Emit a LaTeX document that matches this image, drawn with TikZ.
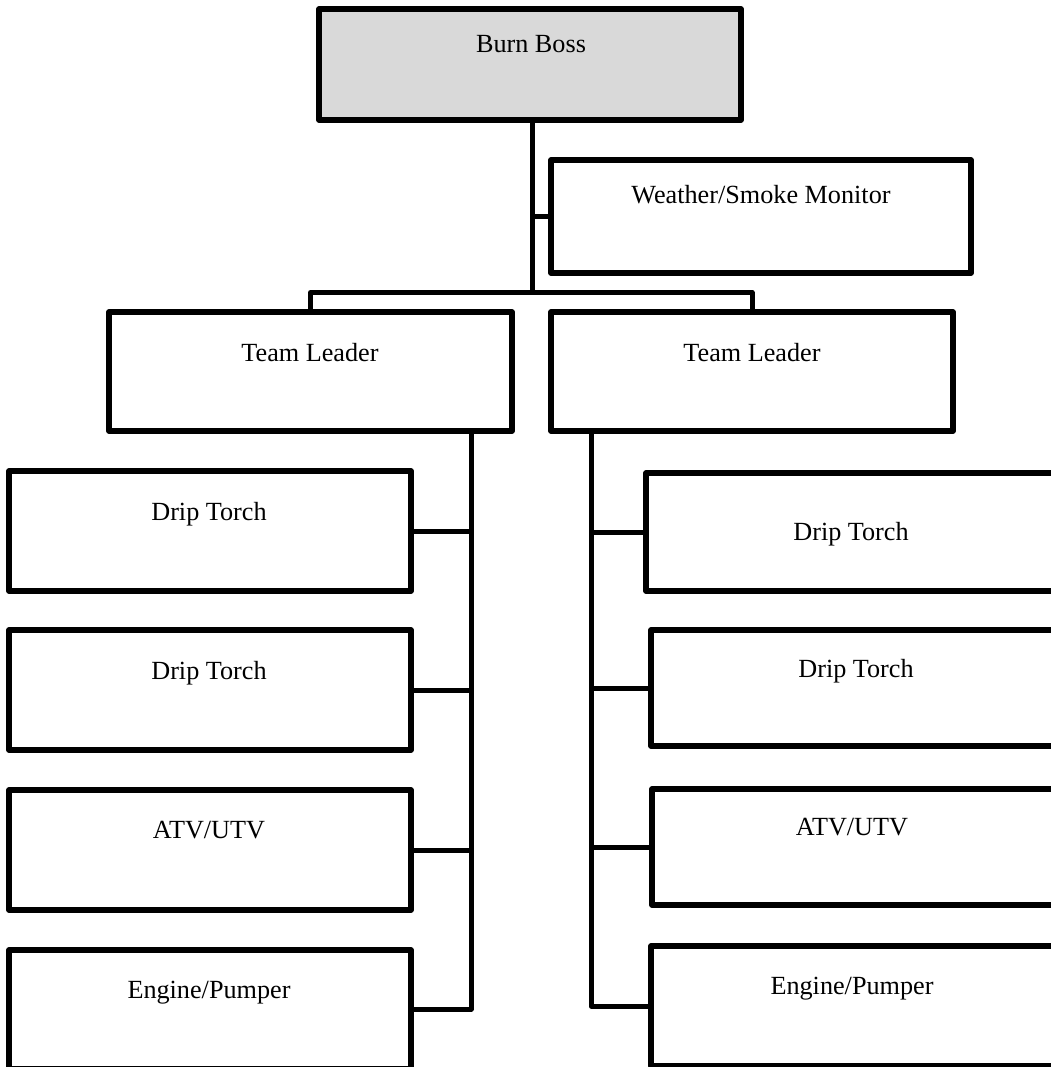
\documentclass[tikz,border=0pt]{standalone}
\usepackage{fontspec}
\setmainfont{Liberation Serif}
\definecolor{bossgray}{RGB}{217,217,217}
\begin{document}
\begin{tikzpicture}[x=1pt,y=-1pt,
  box/.style={draw=black, line width=5.2pt, rectangle, inner sep=0pt, outer sep=0pt, line join=round, fill=white},
  txt/.style={anchor=base, inner sep=0pt, font=\fontsize{26.2}{30}\selectfont},
  conn/.style={draw=black, line width=5pt, line join=round}]
\useasboundingbox (0,0) rectangle (1050,1067);

% boxes
\node[box, fill=bossgray, minimum width=422pt, minimum height=111pt] (bb) at (530,64.5) {};
\node[box, minimum width=420pt, minimum height=113pt] (wx) at (761,216.5) {};
\node[box, minimum width=403pt, minimum height=119pt] (tl1) at (310.5,371.5) {};
\node[box, minimum width=402pt, minimum height=119pt] (tl2) at (752,371.5) {};

\node[box, minimum width=402pt, minimum height=120pt] (l1) at (210,531) {};
\node[box, minimum width=402pt, minimum height=120pt] (l2) at (210,690) {};
\node[box, minimum width=402pt, minimum height=120pt] (l3) at (210,850) {};
\node[box, minimum width=402pt, minimum height=118.5pt] (l4) at (210,1009.25) {};

\node[box, minimum width=410pt, minimum height=118pt] (r1) at (851,532) {};
\node[box, minimum width=410pt, minimum height=116pt] (r2) at (856,688) {};
\node[box, minimum width=410pt, minimum height=116pt] (r3) at (857,847) {};
\node[box, minimum width=410pt, minimum height=120pt] (r4) at (856,1006) {};

% texts
\node[txt] (t0) at (531,53) {Burn Boss};
\node[txt] (tw) at (761,204) {Weather/Smoke Monitor};
\node[txt] (tt1) at (310,361) {Team Leader};
\node[txt] (tt2) at (752,361) {Team Leader};
\node[txt] (tl1t) at (209,520) {Drip Torch};
\node[txt] (tl2t) at (209,679) {Drip Torch};
\node[txt] (tl3t) at (209,838) {ATV/UTV};
\node[txt] (tl4t) at (209,998) {Engine/Pumper};
\node[txt] (tr1t) at (851,540) {Drip Torch};
\node[txt] (tr2t) at (856,677) {Drip Torch};
\node[txt] (tr3t) at (852,835) {ATV/UTV};
\node[txt] (tr4t) at (852,994) {Engine/Pumper};

% junctions
\coordinate (jtop) at (532,120);
\coordinate (jbar) at (532,292.5);
\coordinate (ls) at (471,431);
\coordinate (rs) at (591,431);

% connectors
\draw[conn] (jtop) -- (jbar);
\draw[conn] (wx.west -| jbar) -- (wx.west);
\draw[conn] (tl1.north) |- (jbar) -| (tl2.north);

\draw[conn] (ls) |- (l4.east);
\draw[conn] (l1.east) -- (l1.east -| ls);
\draw[conn] (l2.east) -- (l2.east -| ls);
\draw[conn] (l3.east) -- (l3.east -| ls);

\draw[conn] (rs) |- (r4.west);
\draw[conn] (r1.west) -- (r1.west -| rs);
\draw[conn] (r2.west) -- (r2.west -| rs);
\draw[conn] (r3.west) -- (r3.west -| rs);
\end{tikzpicture}
\end{document}
